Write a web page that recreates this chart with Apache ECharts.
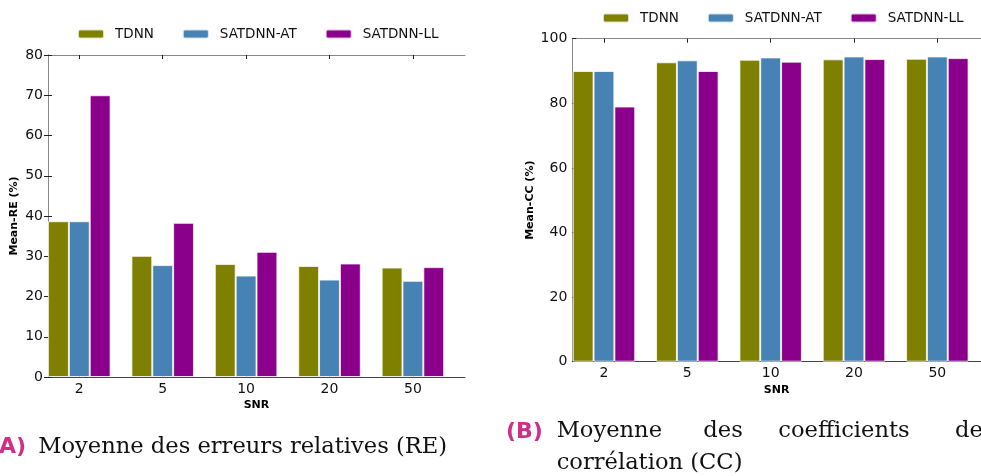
<!DOCTYPE html>
<html>
<head>
<meta charset="utf-8">
<script src="https://cdn.jsdelivr.net/npm/echarts@6/dist/echarts.min.js"></script>
<style>html,body{margin:0;padding:0;background:#fff}#c{width:981px;height:476px}</style>
</head>
<body>
<div id="c"></div>
<script>
var categories = ['2', '5', '10', '20', '50'];
var seriesNames = ['TDNN', 'SATDNN-AT', 'SATDNN-LL'];
var colors = ['#808000', '#4682B4', '#8B008B'];

// Panel A: Mean-RE (%)
var reTDNN = [38.7, 30.1, 28.1, 27.6, 27.2];
var reAT   = [38.7, 27.8, 25.2, 24.2, 23.9];
var reLL   = [70.0, 38.3, 31.1, 28.2, 27.3];
var reTicks = [0, 10, 20, 30, 40, 50, 60, 70, 80];

// Panel B: Mean-CC (%)
var ccTDNN = [90.0, 92.7, 93.5, 93.6, 93.8];
var ccAT   = [90.0, 93.3, 94.2, 94.5, 94.5];
var ccLL   = [79.0, 90.0, 92.9, 93.7, 94.0];
var ccTicks = [0, 20, 40, 60, 80, 100];

var FONT = 'DejaVu Sans';
var chart = echarts.init(document.getElementById('c'), null, {renderer: 'canvas'});

function frameY(gi, ticks, name, gap, side, showLabel) {
  return {
    type: 'value', gridIndex: gi, position: side,
    min: ticks[0], max: ticks[ticks.length - 1], interval: ticks[1] - ticks[0],
    name: showLabel ? name : '', nameLocation: 'middle', nameGap: gap,
    nameTextStyle: {fontFamily: FONT, fontWeight: 'bold', fontSize: 11, color: '#000'},
    axisLine: {show: true, lineStyle: {color: '#888', width: 1}},
    axisTick: {show: true, inside: true, length: 4, lineStyle: {color: '#222'}},
    axisLabel: {show: showLabel, margin: 5, fontFamily: FONT, fontSize: 14, color: '#111'},
    splitLine: {show: false}
  };
}
function frameX(gi, side, color, name) {
  return {
    type: 'value', gridIndex: gi, position: side, min: 0, max: 1,
    name: name, nameLocation: 'middle', nameGap: 23,
    nameTextStyle: {fontFamily: FONT, fontWeight: 'bold', fontSize: 11, color: '#000'},
    axisLine: {show: true, onZero: false, lineStyle: {color: color, width: 1}},
    axisTick: {show: false}, axisLabel: {show: false}, splitLine: {show: false}
  };
}
function catX(gi, side, labels) {
  return {
    type: 'category', gridIndex: gi, position: side, data: categories,
    axisLine: {show: false},
    axisTick: {show: true, inside: true, length: 4, alignWithLabel: true, lineStyle: {color: '#222'}},
    axisLabel: {show: labels, margin: 5, fontFamily: FONT, fontSize: 14, color: '#111'},
    splitLine: {show: false}
  };
}
function hiddenY(gi, ticks) {
  return {type: 'value', gridIndex: gi, min: ticks[0], max: ticks[ticks.length - 1], show: false};
}
function bars(name, data, xi, yi, color) {
  return {
    type: 'bar', name: name, data: data, xAxisIndex: xi, yAxisIndex: yi,
    barWidth: '25%', barGap: '0%',
    itemStyle: {color: color, borderColor: 'rgba(255,255,255,0.75)', borderWidth: 1},
    emphasis: {disabled: true}, animation: false
  };
}
function legend(left, top) {
  return {
    left: left, top: top, padding: 0, itemWidth: 26, itemHeight: 9, itemGap: 28,
    data: seriesNames, selectedMode: false,
    textStyle: {fontFamily: FONT, fontSize: 13.5, color: '#111', padding: [0, 0, 0, 6]}
  };
}

var option = {
  backgroundColor: '#fff',
  animation: false,
  legend: [legend(77, 27), legend(602, 11)],
  grid: [
    {left: 48, top: 55, width: 417, height: 322},      // A frame
    {left: 37.6, top: 55, width: 417, height: 322},    // A bars
    {left: 572.3, top: 38.7, width: 416.7, height: 323}, // B frame
    {left: 562.3, top: 38.7, width: 416.7, height: 323}  // B bars
  ],
  xAxis: [
    frameX(0, 'bottom', '#444', 'SNR'),
    frameX(0, 'top', '#888', ''),
    catX(1, 'bottom', true),
    catX(1, 'top', false),
    frameX(2, 'bottom', '#444', 'SNR'),
    frameX(2, 'top', '#888', ''),
    catX(3, 'bottom', true),
    catX(3, 'top', false)
  ],
  yAxis: [
    frameY(0, reTicks, 'Mean-RE (%)', 28, 'left', true),
    frameY(0, reTicks, '', 0, 'right', false),
    hiddenY(1, reTicks),
    frameY(2, ccTicks, 'Mean-CC (%)', 37, 'left', true),
    hiddenY(3, ccTicks)
  ],
  series: [
    bars(seriesNames[0], reTDNN, 2, 2, colors[0]),
    bars(seriesNames[1], reAT, 2, 2, colors[1]),
    bars(seriesNames[2], reLL, 2, 2, colors[2]),
    bars(seriesNames[0], ccTDNN, 6, 4, colors[0]),
    bars(seriesNames[1], ccAT, 6, 4, colors[1]),
    bars(seriesNames[2], ccLL, 6, 4, colors[2])
  ],
  graphic: [
    {type: 'text', x: 26, y: 447, style: {text: '(A)', align: 'right', verticalAlign: 'middle', font: 'bold 22px "DejaVu Sans"', fill: '#d12f87'}},
    {type: 'text', x: 38.3, y: 446.7, style: {text: 'Moyenne des erreurs relatives (RE)', align: 'left', verticalAlign: 'middle', font: '22.6px "DejaVu Serif"', fill: '#111'}},
    {type: 'text', x: 506, y: 432, style: {text: '(B)', align: 'left', verticalAlign: 'middle', font: 'bold 22px "DejaVu Sans"', fill: '#d12f87'}},
    {type: 'text', x: 556.7, y: 431.5, style: {text: 'Moyenne', align: 'left', verticalAlign: 'middle', font: '22.6px "DejaVu Serif"', fill: '#111'}},
    {type: 'text', x: 703.3, y: 431.5, style: {text: 'des', align: 'left', verticalAlign: 'middle', font: '22.6px "DejaVu Serif"', fill: '#111'}},
    {type: 'text', x: 778.3, y: 431.5, style: {text: 'coefficients', align: 'left', verticalAlign: 'middle', font: '22.6px "DejaVu Serif"', fill: '#111'}},
    {type: 'text', x: 955, y: 431.5, style: {text: 'de', align: 'left', verticalAlign: 'middle', font: '22.6px "DejaVu Serif"', fill: '#111'}},
    {type: 'text', x: 556.7, y: 463.2, style: {text: 'corrélation (CC)', align: 'left', verticalAlign: 'middle', font: '22.6px "DejaVu Serif"', fill: '#111'}}
  ]
};
chart.setOption(option);
</script>
</body>
</html>
